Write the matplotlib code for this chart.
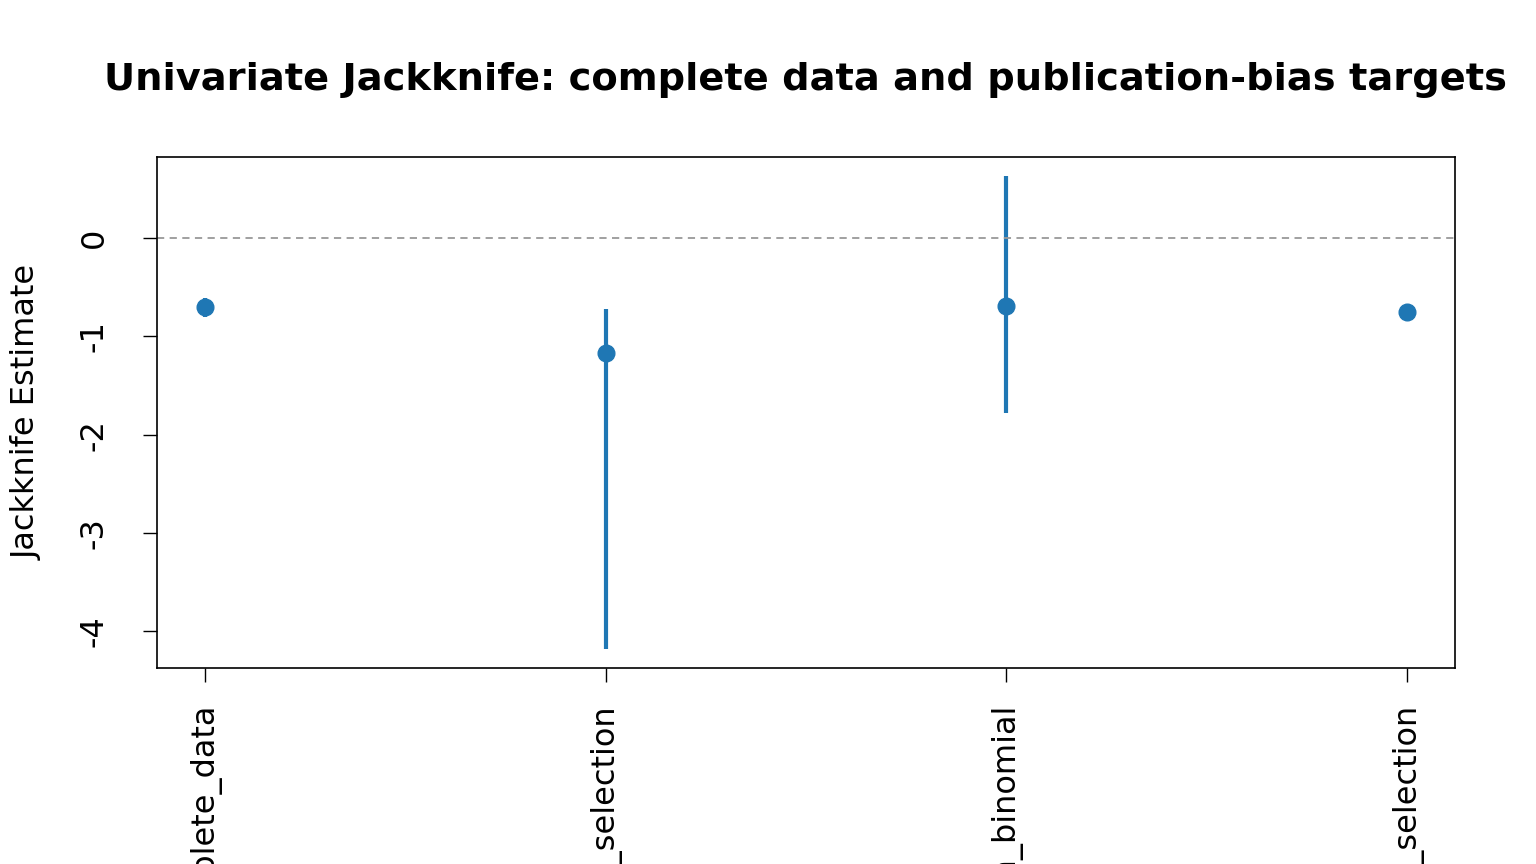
import matplotlib
matplotlib.use("Agg")
import matplotlib.pyplot as plt

categories = ["complete_data", "copas_selection", "selection_binomial", "step_selection"]
estimates = [-0.70, -1.17, -0.69, -0.75]
lower = [-0.80, -4.18, -1.78, -0.83]
upper = [-0.61, -0.72, 0.63, -0.67]

color = "#1f77b4"
fig = plt.figure(figsize=(15.36, 8.64), dpi=100)
ax = fig.add_axes([157/1536, 1 - 668/864, (1455-157)/1536, (668-157)/864])

x = list(range(1, len(categories) + 1))
ax.vlines(x, lower, upper, color=color, lw=3)
ax.plot(x, estimates, "o", color=color, ms=12)
ax.axhline(0, color="#999999", lw=1.3, ls=(0, (4, 3)))

xmin, xmax = 1, len(categories)
dx = (xmax - xmin) * 0.04
ax.set_xlim(xmin - dx, xmax + dx)
lo, hi = min(lower), max(upper)
dy = (hi - lo) * 0.04
ax.set_ylim(lo - dy, hi + dy)

ax.set_xticks(x)
ax.set_xticklabels(categories, rotation=90, fontsize=23)
ax.set_yticks([0, -1, -2, -3, -4])
ax.set_yticklabels(["0", "-1", "-2", "-3", "-4"], rotation=90, va="center", fontsize=23)
ax.tick_params(axis="both", direction="out", length=10, width=1, color="black")
ax.tick_params(axis="x", pad=16)
ax.tick_params(axis="y", pad=24)
for s in ax.spines.values():
    s.set_linewidth(1.2)
ax.set_ylabel("Jackknife Estimate", fontsize=23, labelpad=26)
fig.text(806/1536, 1 - 80/864, "Univariate Jackknife: complete data and publication-bias targets",
         ha="center", va="center", fontsize=27.6, fontweight="bold")
fig.savefig("out.png", dpi=100)
